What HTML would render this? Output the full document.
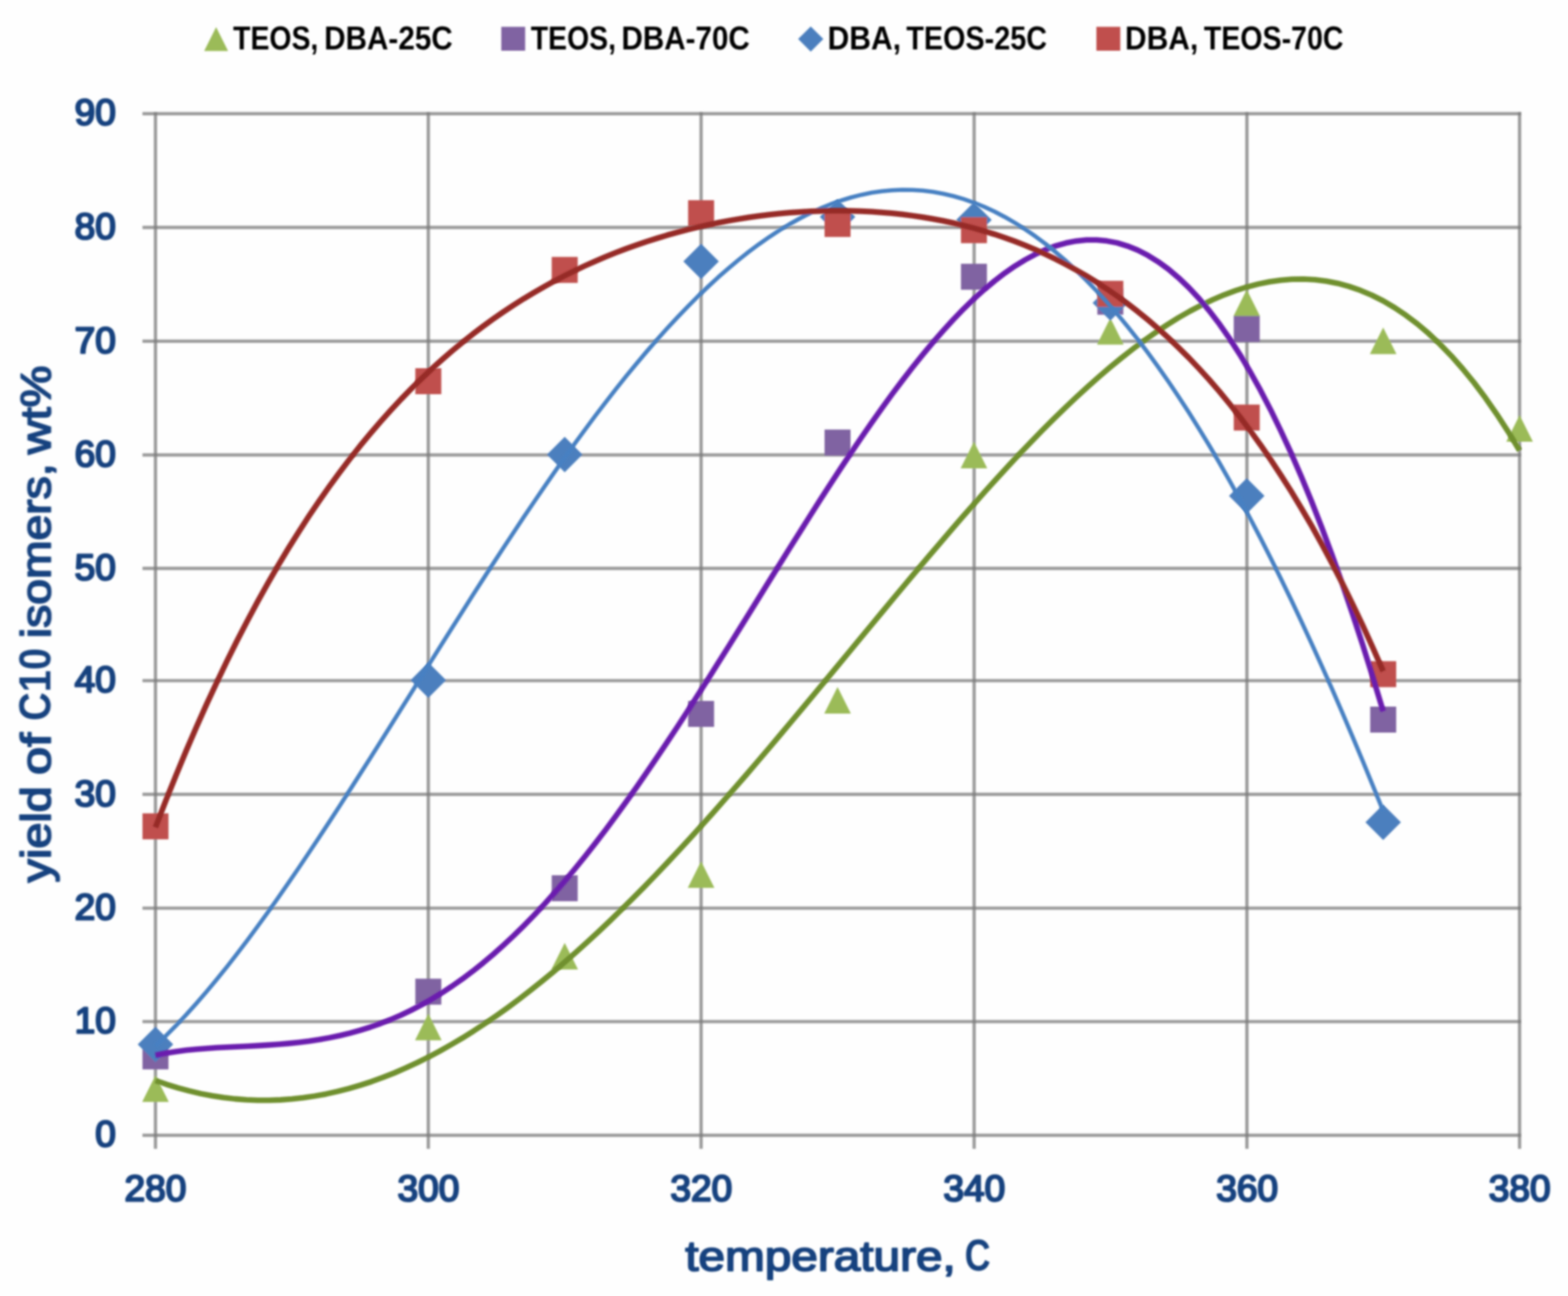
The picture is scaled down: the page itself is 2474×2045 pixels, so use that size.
<!DOCTYPE html>
<html lang="en"><head><meta charset="utf-8"><title>Yield of C10 isomers vs temperature</title>
<style>html,body{margin:0;padding:0;background:#fefefe}body{width:2474px;height:2045px;overflow:hidden}svg{display:block}
text{font-family:"Liberation Sans",sans-serif;font-weight:bold;font-kerning:none}
.ax text,.tt{fill:#15427f;stroke:#15427f;stroke-linejoin:round;font-weight:normal}.ax text{font-size:57.0px;stroke-width:3.2px}.tt{font-size:67.0px;stroke-width:2.7px}.tt .bw{font-weight:bold;stroke:none;font-size:71px}.lg{fill:#000;font-size:52px}
</style></head><body>
<svg xmlns="http://www.w3.org/2000/svg" width="2474" height="2045" viewBox="0 0 2474 2045">
<defs><filter id="soft" x="0" y="0" width="2474" height="2045" filterUnits="userSpaceOnUse"><feGaussianBlur stdDeviation="1.40"/></filter><filter id="softer" x="0" y="0" width="2474" height="2045" filterUnits="userSpaceOnUse"><feGaussianBlur stdDeviation="1.80"/></filter></defs>
<rect width="2474" height="2045" fill="#fefefe"/>
<g filter="url(#soft)">
<g stroke="#7a7a7a" stroke-opacity="0.74" stroke-width="5.2" fill="none">
<line x1="224.8" y1="1791.3" x2="2400.2" y2="1791.3"/>
<line x1="224.8" y1="1612.0" x2="2400.2" y2="1612.0"/>
<line x1="224.8" y1="1433.0" x2="2400.2" y2="1433.0"/>
<line x1="224.8" y1="1253.4" x2="2400.2" y2="1253.4"/>
<line x1="224.8" y1="1074.0" x2="2400.2" y2="1074.0"/>
<line x1="224.8" y1="896.8" x2="2400.2" y2="896.8"/>
<line x1="224.8" y1="717.8" x2="2400.2" y2="717.8"/>
<line x1="224.8" y1="538.4" x2="2400.2" y2="538.4"/>
<line x1="224.8" y1="358.8" x2="2400.2" y2="358.8"/>
<line x1="224.8" y1="179.3" x2="2400.2" y2="179.3"/>
<line x1="245.3" y1="176.7" x2="245.3" y2="1812.8"/>
<line x1="675.8" y1="176.7" x2="675.8" y2="1812.8"/>
<line x1="1106.2" y1="176.7" x2="1106.2" y2="1812.8"/>
<line x1="1537.0" y1="176.7" x2="1537.0" y2="1812.8"/>
<line x1="1967.4" y1="176.7" x2="1967.4" y2="1812.8"/>
<line x1="2397.6" y1="176.7" x2="2397.6" y2="1812.8"/>
</g>
<g>
<path d="M245.3 1696.8L266.3 1738.8L224.3 1738.8Z" fill="#9bbb59"/>
<path d="M675.8 1599.4L696.8 1641.4L654.8 1641.4Z" fill="#9bbb59"/>
<path d="M891.0 1487.7L912.0 1529.7L870.0 1529.7Z" fill="#9bbb59"/>
<path d="M1106.2 1358.9L1127.2 1400.9L1085.2 1400.9Z" fill="#9bbb59"/>
<path d="M1321.5 1084.0L1342.5 1126.0L1300.5 1126.0Z" fill="#9bbb59"/>
<path d="M1536.7 697.0L1557.7 739.0L1515.7 739.0Z" fill="#9bbb59"/>
<path d="M1751.9 501.7L1772.9 543.7L1730.9 543.7Z" fill="#9bbb59"/>
<path d="M1967.1 456.9L1988.1 498.9L1946.1 498.9Z" fill="#9bbb59"/>
<path d="M2182.4 516.8L2203.4 558.8L2161.4 558.8Z" fill="#9bbb59"/>
<path d="M2397.6 654.9L2418.6 696.9L2376.6 696.9Z" fill="#9bbb59"/>
<rect x="224.8" y="1646.4" width="41.0" height="41.0" fill="#8064a2"/>
<rect x="655.3" y="1544.3" width="41.0" height="41.0" fill="#8064a2"/>
<rect x="870.5" y="1381.1" width="41.0" height="41.0" fill="#8064a2"/>
<rect x="1085.7" y="1106.0" width="41.0" height="41.0" fill="#8064a2"/>
<rect x="1301.0" y="677.8" width="41.0" height="41.0" fill="#8064a2"/>
<rect x="1516.2" y="416.2" width="41.0" height="41.0" fill="#8064a2"/>
<rect x="1731.4" y="455.6" width="41.0" height="41.0" fill="#8064a2"/>
<rect x="1946.6" y="498.6" width="41.0" height="41.0" fill="#8064a2"/>
<rect x="2161.9" y="1115.0" width="41.0" height="41.0" fill="#8064a2"/>
<path d="M245.3 1620.0L273.3 1648.0L245.3 1676.0L217.3 1648.0Z" fill="#4b7fbe"/>
<path d="M675.8 1045.3L703.8 1073.3L675.8 1101.3L647.8 1073.3Z" fill="#4b7fbe"/>
<path d="M891.0 689.3L919.0 717.3L891.0 745.3L863.0 717.3Z" fill="#4b7fbe"/>
<path d="M1106.2 384.5L1134.2 412.5L1106.2 440.5L1078.2 412.5Z" fill="#4b7fbe"/>
<path d="M1321.5 314.3L1349.5 342.3L1321.5 370.3L1293.5 342.3Z" fill="#4b7fbe"/>
<path d="M1536.7 319.1L1564.7 347.1L1536.7 375.1L1508.7 347.1Z" fill="#4b7fbe"/>
<path d="M1751.9 449.9L1779.9 477.9L1751.9 505.9L1723.9 477.9Z" fill="#4b7fbe"/>
<path d="M1967.1 754.5L1995.1 782.5L1967.1 810.5L1939.1 782.5Z" fill="#4b7fbe"/>
<path d="M2182.4 1269.5L2210.4 1297.5L2182.4 1325.5L2154.4 1297.5Z" fill="#4b7fbe"/>
<rect x="224.8" y="1283.4" width="41.0" height="41.0" fill="#c0504d"/>
<rect x="655.3" y="581.0" width="41.0" height="41.0" fill="#c0504d"/>
<rect x="870.5" y="405.4" width="41.0" height="41.0" fill="#c0504d"/>
<rect x="1085.7" y="315.9" width="41.0" height="41.0" fill="#c0504d"/>
<rect x="1301.0" y="332.9" width="41.0" height="41.0" fill="#c0504d"/>
<rect x="1516.2" y="342.7" width="41.0" height="41.0" fill="#c0504d"/>
<rect x="1731.4" y="443.1" width="41.0" height="41.0" fill="#c0504d"/>
<rect x="1946.6" y="638.4" width="41.0" height="41.0" fill="#c0504d"/>
<rect x="2161.9" y="1043.3" width="41.0" height="41.0" fill="#c0504d"/>
</g>
</g>
<g fill="none" stroke-linecap="butt" stroke-linejoin="round" filter="url(#softer)">
<polyline stroke="#70902e" stroke-width="8.8" points="245.3,1705.0 263.2,1711.2 281.2,1716.7 299.1,1721.5 317.0,1725.7 335.0,1729.1 352.9,1731.9 370.9,1734.0 388.8,1735.3 406.7,1736.1 424.7,1736.1 442.6,1735.5 460.5,1734.2 478.5,1732.2 496.4,1729.5 514.3,1726.3 532.3,1722.3 550.2,1717.7 568.1,1712.5 586.1,1706.7 604.0,1700.2 622.0,1693.1 639.9,1685.3 657.8,1677.0 675.8,1668.1 693.7,1658.6 711.6,1648.5 729.6,1637.9 747.5,1626.7 765.4,1614.9 783.4,1602.6 801.3,1589.8 819.2,1576.5 837.2,1562.6 855.1,1548.3 873.1,1533.5 891.0,1518.2 908.9,1502.5 926.9,1486.3 944.8,1469.7 962.7,1452.7 980.7,1435.2 998.6,1417.4 1016.5,1399.3 1034.5,1380.8 1052.4,1361.9 1070.3,1342.7 1088.3,1323.3 1106.2,1303.5 1124.2,1283.5 1142.1,1263.2 1160.0,1242.7 1178.0,1222.0 1195.9,1201.0 1213.8,1180.0 1231.8,1158.7 1249.7,1137.3 1267.6,1115.9 1285.6,1094.3 1303.5,1072.6 1321.5,1050.9 1339.4,1029.2 1357.3,1007.5 1375.3,985.8 1393.2,964.1 1411.1,942.5 1429.1,921.0 1447.0,899.6 1464.9,878.4 1482.9,857.3 1500.8,836.4 1518.7,815.7 1536.7,795.3 1554.6,775.1 1572.6,755.3 1590.5,735.7 1608.4,716.5 1626.4,697.7 1644.3,679.3 1662.2,661.4 1680.2,643.9 1698.1,626.9 1716.0,610.4 1734.0,594.5 1751.9,579.2 1769.8,564.5 1787.8,550.4 1805.7,537.0 1823.7,524.4 1841.6,512.5 1859.5,501.3 1877.5,491.0 1895.4,481.6 1913.3,473.0 1931.3,465.3 1949.2,458.6 1967.1,452.9 1985.1,448.2 2003.0,444.6 2020.9,442.1 2038.9,440.7 2056.8,440.4 2074.8,441.4 2092.7,443.6 2110.6,447.1 2128.6,452.0 2146.5,458.2 2164.4,465.8 2182.4,474.8 2200.3,485.4 2218.2,497.4 2236.2,511.0 2254.1,526.2 2272.0,543.1 2290.0,561.7 2307.9,582.0 2325.9,604.0 2343.8,627.9 2361.7,653.7 2379.7,681.3 2397.6,710.9"/>
<polyline stroke="#6a1eae" stroke-width="8.8" points="245.3,1665.1 261.4,1661.9 277.6,1659.3 293.7,1657.2 309.9,1655.6 326.0,1654.3 342.2,1653.2 358.3,1652.4 374.4,1651.6 390.6,1650.8 406.7,1650.0 422.9,1649.0 439.0,1647.9 455.1,1646.5 471.3,1644.8 487.4,1642.8 503.6,1640.4 519.7,1637.5 535.9,1634.1 552.0,1630.2 568.1,1625.8 584.3,1620.7 600.4,1615.0 616.6,1608.7 632.7,1601.7 648.9,1594.0 665.0,1585.6 681.1,1576.5 697.3,1566.6 713.4,1556.0 729.6,1544.7 745.7,1532.6 761.9,1519.7 778.0,1506.1 794.1,1491.7 810.3,1476.6 826.4,1460.8 842.6,1444.2 858.7,1426.9 874.8,1409.0 891.0,1390.3 907.1,1371.0 923.3,1351.0 939.4,1330.5 955.6,1309.3 971.7,1287.6 987.8,1265.3 1004.0,1242.6 1020.1,1219.3 1036.3,1195.6 1052.4,1171.5 1068.6,1147.1 1084.7,1122.3 1100.8,1097.2 1117.0,1071.8 1133.1,1046.2 1149.3,1020.5 1165.4,994.6 1181.6,968.6 1197.7,942.6 1213.8,916.6 1230.0,890.7 1246.1,864.8 1262.3,839.1 1278.4,813.5 1294.5,788.2 1310.7,763.2 1326.8,738.5 1343.0,714.3 1359.1,690.4 1375.3,667.1 1391.4,644.3 1407.5,622.0 1423.7,600.5 1439.8,579.6 1456.0,559.4 1472.1,540.1 1488.3,521.6 1504.4,504.0 1520.5,487.3 1536.7,471.6 1552.8,457.0 1569.0,443.5 1585.1,431.1 1601.2,419.9 1617.4,410.0 1633.5,401.3 1649.7,393.9 1665.8,388.0 1682.0,383.4 1698.1,380.3 1714.2,378.7 1730.4,378.7 1746.5,380.2 1762.7,383.3 1778.8,388.2 1795.0,394.7 1811.1,402.9 1827.2,412.9 1843.4,424.6 1859.5,438.3 1875.7,453.7 1891.8,471.0 1908.0,490.3 1924.1,511.4 1940.2,534.5 1956.4,559.6 1972.5,586.6 1988.7,615.7 2004.8,646.7 2020.9,679.8 2037.1,714.9 2053.2,752.0 2069.4,791.2 2085.5,832.4 2101.7,875.7 2117.8,921.0 2133.9,968.3 2150.1,1017.7 2166.2,1069.0 2182.4,1122.4"/>
<polyline stroke="#4680c2" stroke-width="6.6" points="245.3,1650.2 261.4,1634.8 277.6,1618.4 293.7,1601.3 309.9,1583.3 326.0,1564.6 342.2,1545.2 358.3,1525.2 374.4,1504.5 390.6,1483.3 406.7,1461.4 422.9,1439.1 439.0,1416.3 455.1,1393.1 471.3,1369.5 487.4,1345.5 503.6,1321.2 519.7,1296.6 535.9,1271.7 552.0,1246.6 568.1,1221.4 584.3,1195.9 600.4,1170.4 616.6,1144.7 632.7,1119.0 648.9,1093.2 665.0,1067.4 681.1,1041.7 697.3,1016.0 713.4,990.4 729.6,964.9 745.7,939.6 761.9,914.4 778.0,889.4 794.1,864.7 810.3,840.2 826.4,815.9 842.6,792.0 858.7,768.4 874.8,745.1 891.0,722.2 907.1,699.7 923.3,677.6 939.4,655.9 955.6,634.8 971.7,614.0 987.8,593.8 1004.0,574.1 1020.1,555.0 1036.3,536.4 1052.4,518.4 1068.6,501.0 1084.7,484.2 1100.8,468.0 1117.0,452.5 1133.1,437.6 1149.3,423.5 1165.4,410.0 1181.6,397.2 1197.7,385.2 1213.8,373.9 1230.0,363.3 1246.1,353.5 1262.3,344.5 1278.4,336.3 1294.5,328.9 1310.7,322.2 1326.8,316.5 1343.0,311.5 1359.1,307.4 1375.3,304.1 1391.4,301.7 1407.5,300.2 1423.7,299.5 1439.8,299.7 1456.0,300.8 1472.1,302.8 1488.3,305.7 1504.4,309.5 1520.5,314.2 1536.7,319.8 1552.8,326.3 1569.0,333.8 1585.1,342.2 1601.2,351.5 1617.4,361.7 1633.5,372.8 1649.7,384.9 1665.8,397.9 1682.0,411.8 1698.1,426.7 1714.2,442.5 1730.4,459.2 1746.5,476.8 1762.7,495.4 1778.8,514.8 1795.0,535.2 1811.1,556.5 1827.2,578.7 1843.4,601.8 1859.5,625.8 1875.7,650.6 1891.8,676.4 1908.0,703.0 1924.1,730.5 1940.2,758.8 1956.4,788.0 1972.5,818.0 1988.7,848.9 2004.8,880.6 2020.9,913.0 2037.1,946.3 2053.2,980.4 2069.4,1015.3 2085.5,1050.9 2101.7,1087.2 2117.8,1124.3 2133.9,1162.1 2150.1,1200.7 2166.2,1239.9 2182.4,1279.8"/>
<polyline stroke="#962a28" stroke-width="9.0" points="245.3,1305.5 261.4,1263.8 277.6,1223.6 293.7,1184.8 309.9,1147.3 326.0,1111.1 342.2,1076.3 358.3,1042.6 374.4,1010.2 390.6,979.0 406.7,948.9 422.9,919.9 439.0,892.0 455.1,865.1 471.3,839.3 487.4,814.4 503.6,790.5 519.7,767.5 535.9,745.4 552.0,724.1 568.1,703.7 584.3,684.2 600.4,665.4 616.6,647.3 632.7,630.0 648.9,613.4 665.0,597.5 681.1,582.2 697.3,567.6 713.4,553.6 729.6,540.2 745.7,527.4 761.9,515.1 778.0,503.4 794.1,492.2 810.3,481.5 826.4,471.3 842.6,461.6 858.7,452.3 874.8,443.4 891.0,435.0 907.1,426.9 923.3,419.3 939.4,412.1 955.6,405.2 971.7,398.7 987.8,392.5 1004.0,386.7 1020.1,381.2 1036.3,376.1 1052.4,371.2 1068.6,366.7 1084.7,362.4 1100.8,358.5 1117.0,354.8 1133.1,351.5 1149.3,348.4 1165.4,345.6 1181.6,343.0 1197.7,340.8 1213.8,338.8 1230.0,337.1 1246.1,335.6 1262.3,334.5 1278.4,333.6 1294.5,332.9 1310.7,332.6 1326.8,332.5 1343.0,332.8 1359.1,333.3 1375.3,334.1 1391.4,335.2 1407.5,336.6 1423.7,338.3 1439.8,340.4 1456.0,342.7 1472.1,345.5 1488.3,348.5 1504.4,352.0 1520.5,355.8 1536.7,360.0 1552.8,364.6 1569.0,369.6 1585.1,375.0 1601.2,380.8 1617.4,387.1 1633.5,393.9 1649.7,401.2 1665.8,408.9 1682.0,417.2 1698.1,426.1 1714.2,435.4 1730.4,445.4 1746.5,455.9 1762.7,467.1 1778.8,478.9 1795.0,491.4 1811.1,504.6 1827.2,518.4 1843.4,533.0 1859.5,548.4 1875.7,564.5 1891.8,581.5 1908.0,599.3 1924.1,617.9 1940.2,637.5 1956.4,658.0 1972.5,679.4 1988.7,701.8 2004.8,725.2 2020.9,749.7 2037.1,775.2 2053.2,801.8 2069.4,829.6 2085.5,858.6 2101.7,888.8 2117.8,920.2 2133.9,952.9 2150.1,986.9 2166.2,1022.3 2182.4,1059.1"/>
</g>
<g filter="url(#soft)">
<g class="ax">
<text x="150.2" y="1809.4" textLength="32.5" lengthAdjust="spacingAndGlyphs">0</text>
<text x="117.7" y="1630.1" textLength="65.0" lengthAdjust="spacingAndGlyphs">10</text>
<text x="117.7" y="1451.1" textLength="65.0" lengthAdjust="spacingAndGlyphs">20</text>
<text x="117.7" y="1271.5" textLength="65.0" lengthAdjust="spacingAndGlyphs">30</text>
<text x="117.7" y="1092.1" textLength="65.0" lengthAdjust="spacingAndGlyphs">40</text>
<text x="117.7" y="914.9" textLength="65.0" lengthAdjust="spacingAndGlyphs">50</text>
<text x="117.7" y="735.9" textLength="65.0" lengthAdjust="spacingAndGlyphs">60</text>
<text x="117.7" y="556.5" textLength="65.0" lengthAdjust="spacingAndGlyphs">70</text>
<text x="117.7" y="376.9" textLength="65.0" lengthAdjust="spacingAndGlyphs">80</text>
<text x="117.7" y="197.4" textLength="65.0" lengthAdjust="spacingAndGlyphs">90</text>
<text x="196.4" y="1895.2" textLength="97.5" lengthAdjust="spacingAndGlyphs">280</text>
<text x="627.3" y="1895.2" textLength="97.5" lengthAdjust="spacingAndGlyphs">300</text>
<text x="1057.7" y="1895.2" textLength="97.5" lengthAdjust="spacingAndGlyphs">320</text>
<text x="1488.5" y="1895.2" textLength="97.5" lengthAdjust="spacingAndGlyphs">340</text>
<text x="1918.9" y="1895.2" textLength="97.5" lengthAdjust="spacingAndGlyphs">360</text>
<text x="2349.1" y="1895.2" textLength="97.5" lengthAdjust="spacingAndGlyphs">380</text>
</g>
<text class="tt" y="2004.5"><tspan x="1081.2" textLength="426.8" lengthAdjust="spacingAndGlyphs">temperature,</tspan> <tspan class="bw" x="1522.0" textLength="40.9" lengthAdjust="spacingAndGlyphs">C</tspan></text>
<text class="tt" y="0.0" transform="translate(79.5 0) rotate(-90)"><tspan x="-1392.4" textLength="151.8" lengthAdjust="spacingAndGlyphs">yield</tspan> <tspan x="-1222.7" textLength="66.2" lengthAdjust="spacingAndGlyphs">of</tspan> <tspan class="bw" x="-1137.4" textLength="114.9" lengthAdjust="spacingAndGlyphs">C10</tspan> <tspan x="-1006.9" textLength="275.7" lengthAdjust="spacingAndGlyphs">isomers,</tspan> <tspan x="-716.7" textLength="139.8" lengthAdjust="spacingAndGlyphs">wt%</tspan></text>
<g>
<path d="M341.0 42.7L359.9 80.5L322.1 80.5Z" fill="#9bbb59"/>
<rect x="790.9" y="42.3" width="37.7" height="37.7" fill="#8064a2"/>
<path d="M1279.2 41.7L1299.1 61.6L1279.2 81.5L1259.3 61.6Z" fill="#4b7fbe"/>
<rect x="1729.9" y="42.3" width="37.7" height="37.7" fill="#c0504d"/>
</g>
<text class="lg" y="77.6"><tspan x="367.8" textLength="134.5" lengthAdjust="spacingAndGlyphs">TEOS,</tspan> <tspan x="511.6" textLength="202.6" lengthAdjust="spacingAndGlyphs">DBA-25C</tspan></text>
<text class="lg" y="77.6"><tspan x="837.4" textLength="134.6" lengthAdjust="spacingAndGlyphs">TEOS,</tspan> <tspan x="980.5" textLength="202.6" lengthAdjust="spacingAndGlyphs">DBA-70C</tspan></text>
<text class="lg" y="77.6"><tspan x="1305.8" textLength="115.8" lengthAdjust="spacingAndGlyphs">DBA,</tspan> <tspan x="1430.1" textLength="221.8" lengthAdjust="spacingAndGlyphs">TEOS-25C</tspan></text>
<text class="lg" y="77.6"><tspan x="1775.1" textLength="115.5" lengthAdjust="spacingAndGlyphs">DBA,</tspan> <tspan x="1899.6" textLength="220.1" lengthAdjust="spacingAndGlyphs">TEOS-70C</tspan></text>
</g>
</svg></body></html>
